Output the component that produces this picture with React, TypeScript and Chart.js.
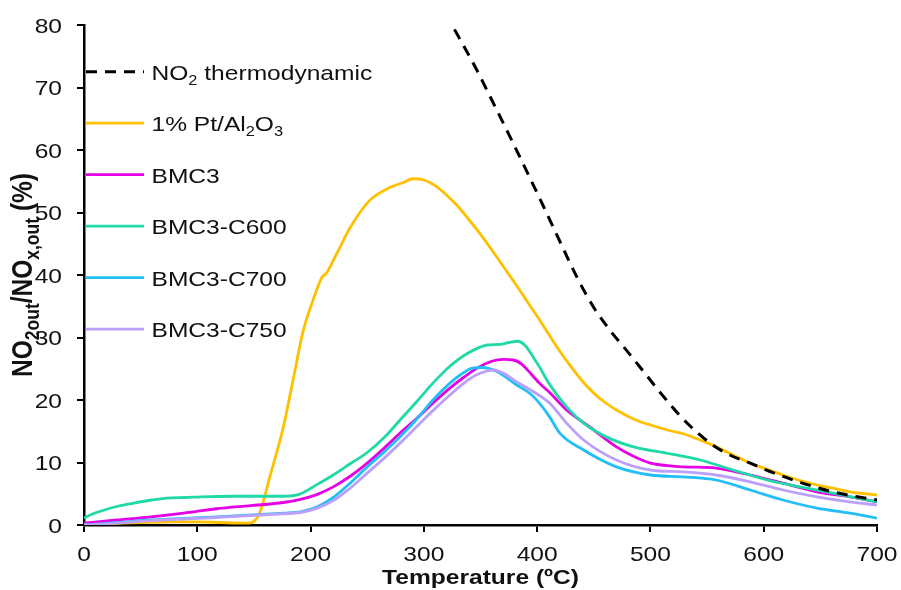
import React, { useEffect, useRef } from 'react';
import { Chart, registerables } from 'chart.js';
Chart.register(...registerables);

// ---------- Data ----------
const thermoT = [327, 345, 360, 375, 390, 405, 420, 435, 450, 465, 480, 495, 510, 526, 540, 555, 570, 588, 605, 626, 645, 661, 680, 700];
const thermoV = [79.3, 73.4, 68.0, 62.5, 56.9, 51.2, 45.4, 39.7, 34.8, 31.0, 27.7, 24.3, 20.9, 17.5, 15.0, 12.8, 11.2, 9.9, 8.6, 7.2, 6.1, 5.3, 4.6, 4.0];

const ptT = [0, 20, 50, 80, 100, 120, 140, 146, 155, 164, 176, 185, 193, 202, 210, 214, 223, 235, 252, 270, 282, 290, 300, 310, 320, 330, 340, 350, 360, 370, 380, 390, 400, 410, 420, 430, 440, 450, 460, 470, 480, 490, 500, 515, 529, 544, 558, 573, 588, 603, 617, 632, 647, 661, 676, 690, 700];
const ptV = [0.1, 0.2, 0.4, 0.5, 0.5, 0.4, 0.3, 0.3, 1.9, 7.7, 15.7, 23.6, 30.7, 35.9, 39.6, 40.3, 43.4, 47.6, 51.9, 54.0, 54.8, 55.4, 55.2, 54.3, 52.8, 51.0, 48.8, 46.5, 44.0, 41.4, 38.8, 36.1, 33.4, 30.6, 27.8, 25.3, 23.0, 21.1, 19.6, 18.4, 17.4, 16.6, 16.0, 15.2, 14.6, 13.6, 12.5, 11.2, 9.9, 8.9, 8.0, 7.1, 6.4, 5.9, 5.3, 5.0, 4.8];

const bmc3T = [0, 29, 59, 88, 117, 147, 176, 191, 206, 220, 235, 250, 265, 279, 294, 308, 323, 335, 347, 360, 370, 379, 386, 391, 402, 411, 426, 447, 470, 485, 500, 515, 529, 558, 588, 617, 647, 676, 700];
const bmc3V = [0.3, 0.8, 1.3, 1.9, 2.6, 3.1, 3.6, 4.1, 4.9, 6.1, 7.8, 9.9, 12.3, 14.7, 17.1, 19.5, 21.9, 23.6, 25.1, 26.2, 26.5, 26.4, 25.8, 24.9, 22.7, 21.2, 18.4, 15.6, 12.5, 11.0, 9.9, 9.5, 9.3, 9.1, 8.0, 6.7, 5.3, 4.5, 3.7];

const c600T = [0, 8, 18, 30, 44, 60, 73, 90, 103, 132, 160, 176, 190, 206, 220, 235, 250, 265, 279, 294, 308, 323, 338, 356, 367, 375, 383, 390, 396, 402, 411, 426, 441, 461, 485, 514, 544, 573, 603, 632, 661, 680, 700];
const c600V = [1.1, 1.8, 2.4, 3.0, 3.5, 4.0, 4.3, 4.4, 4.5, 4.6, 4.6, 4.6, 4.9, 6.5, 8.0, 9.8, 11.6, 14.0, 16.8, 19.8, 22.7, 25.4, 27.4, 28.8, 28.9, 29.2, 29.4, 28.6, 27.0, 25.3, 22.5, 18.9, 16.3, 14.1, 12.5, 11.5, 10.4, 8.8, 7.2, 6.1, 5.1, 4.4, 3.7];

const c700T = [0, 30, 59, 117, 176, 191, 206, 220, 235, 250, 265, 279, 294, 308, 323, 332, 343, 352, 360, 367, 382, 394, 402, 411, 420, 441, 470, 500, 529, 558, 588, 617, 647, 676, 700];
const c700V = [0.0, 0.4, 0.8, 1.3, 1.9, 2.1, 2.9, 4.4, 6.7, 9.3, 11.7, 14.1, 17.0, 20.0, 22.7, 24.0, 25.1, 25.2, 24.9, 24.3, 22.4, 21.0, 19.5, 17.3, 14.7, 12.0, 9.3, 8.0, 7.7, 7.2, 5.6, 4.0, 2.7, 1.9, 1.1];

const c750T = [0, 30, 59, 117, 176, 191, 206, 220, 235, 250, 265, 279, 294, 308, 323, 334, 345, 355, 362, 370, 382, 396, 411, 426, 441, 470, 500, 529, 558, 588, 617, 647, 676, 700];
const c750V = [0.0, 0.3, 0.7, 1.2, 1.8, 2.0, 2.7, 3.9, 5.9, 8.3, 10.7, 13.1, 15.8, 18.3, 20.8, 22.5, 23.9, 24.6, 24.8, 24.3, 22.9, 21.4, 19.5, 16.3, 13.6, 10.4, 8.8, 8.5, 8.0, 6.9, 5.6, 4.5, 3.7, 3.2];

const seriesNames = ['NO2 thermodynamic', '1% Pt/Al2O3', 'BMC3', 'BMC3-C600', 'BMC3-C700', 'BMC3-C750'];
const seriesColors = ['#000000', '#FFC000', '#E600E6', '#1FD9A6', '#22BFF7', '#BBA0FA'];
const seriesT = [thermoT, ptT, bmc3T, c600T, c700T, c750T];
const seriesV = [thermoV, ptV, bmc3V, c600V, c700V, c750V];

// rich legend labels: [text, isSubscript]
const legendRich: [string, number][][] = [
  [['NO', 0], ['2', 1], [' thermodynamic', 0]],
  [['1% Pt/Al', 0], ['2', 1], ['O', 0], ['3', 1]],
  [['BMC3', 0]],
  [['BMC3-C600', 0]],
  [['BMC3-C700', 0]],
  [['BMC3-C750', 0]],
];
const yTitleRich: [string, number][] = [['NO', 0], ['2out', 1], ['/NO', 0], ['x,out', 1], [' (%)', 0]];
const xTitle = 'Temperature (ºC)';

const X_MIN = 0, X_MAX = 700, X_STEP = 100;
const Y_MIN = 0, Y_MAX = 80, Y_STEP = 10;

const FONT = "'Liberation Sans', Arial, sans-serif";
const SX = 1.17; // horizontal text stretch seen in the reference
const TEXT = '#111';

function drawRich(ctx: CanvasRenderingContext2D, parts: [string, number][], x: number, y: number, size: number, subSize: number, subOff: number, bold: boolean, measureOnly = false) {
  const w = bold ? 'bold ' : '';
  let cx = x;
  for (const [t, sub] of parts) {
    const s = sub ? subSize : size;
    ctx.font = `${w}${s}px ${FONT}`;
    if (!measureOnly) ctx.fillText(t, cx, sub ? y + subOff : y);
    cx += ctx.measureText(t).width;
  }
  return cx - x;
}

function stretchText(ctx: CanvasRenderingContext2D, text: string, x: number, y: number, align: CanvasTextAlign, font: string) {
  ctx.save();
  ctx.translate(x, y);
  ctx.scale(SX, 1);
  ctx.font = font;
  ctx.textAlign = align;
  ctx.textBaseline = 'alphabetic';
  ctx.fillText(text, 0, 0);
  ctx.restore();
}

const overlayPlugin = {
  id: 'overlay',
  afterDraw(chart: any) {
    const ctx: CanvasRenderingContext2D = chart.ctx;
    const area = chart.chartArea;
    const xs = chart.scales.x;
    const ys = chart.scales.y;
    ctx.save();
    ctx.fillStyle = TEXT;
    const tickFont = `21px ${FONT}`;
    // y tick labels
    for (const t of ys.ticks) {
      const py = ys.getPixelForValue(t.value);
      stretchText(ctx, String(t.value), area.left - 22, py + 7.5, 'right', tickFont);
    }
    // x tick labels
    for (const t of xs.ticks) {
      const px = xs.getPixelForValue(t.value);
      stretchText(ctx, String(t.value), px, area.bottom + 36, 'center', tickFont);
    }
    // legend
    const rowStart = area.top + 46.7;
    const rowStep = 51.5;
    for (let i = 0; i < seriesNames.length; i++) {
      const y = rowStart + i * rowStep;
      ctx.beginPath();
      ctx.strokeStyle = seriesColors[i];
      ctx.lineWidth = i === 0 ? 3 : 2.8;
      ctx.setLineDash(i === 0 ? [11, 8] : []);
      ctx.moveTo(area.left + 2, y);
      ctx.lineTo(area.left + 60, y);
      ctx.stroke();
      ctx.setLineDash([]);
      ctx.save();
      ctx.translate(area.left + 67.5, y + 8);
      ctx.scale(SX, 1);
      ctx.fillStyle = TEXT;
      ctx.textAlign = 'left';
      ctx.textBaseline = 'alphabetic';
      drawRich(ctx, legendRich[i], 0, 0, 21, 14, 5, false);
      ctx.restore();
    }
    // x title
    stretchText(ctx, xTitle, (area.left + area.right) / 2, 584, 'center', `bold 21px ${FONT}`);
    // y title (rotated)
    ctx.save();
    ctx.textAlign = 'left';
    ctx.textBaseline = 'alphabetic';
    const tw = drawRich(ctx, yTitleRich, 0, 0, 24.5, 17.5, 6, true, true);
    ctx.translate(32, (area.top + area.bottom) / 2);
    ctx.rotate(-Math.PI / 2);
    ctx.scale(1, SX);
    drawRich(ctx, yTitleRich, -tw / 2, 0, 24.5, 17.5, 6, true);
    ctx.restore();
    ctx.restore();
  },
};

export default function App() {
  const ref = useRef<HTMLCanvasElement | null>(null);
  useEffect(() => {
    if (!ref.current) return;
    const datasets = seriesNames.map((name, i) => ({
      label: name,
      data: seriesT[i].map((t, j) => ({ x: t, y: seriesV[i][j] })),
      borderColor: seriesColors[i],
      backgroundColor: seriesColors[i],
      borderWidth: i === 0 ? 3 : 2.8,
      borderDash: i === 0 ? [11, 8] : [],
      pointRadius: 0,
      fill: false,
      cubicInterpolationMode: 'monotone' as const,
      order: i === 0 ? 0 : 6 - i,
    }));
    const chart = new Chart(ref.current, {
      type: 'line',
      data: { datasets },
      options: {
        animation: false,
        responsive: false,
        devicePixelRatio: 1,
        layout: { padding: { top: 25, right: 24, left: 0, bottom: 0 } },
        plugins: { legend: { display: false }, tooltip: { enabled: false } },
        scales: {
          x: {
            type: 'linear',
            min: X_MIN,
            max: X_MAX,
            ticks: { stepSize: X_STEP, display: false },
            grid: { drawOnChartArea: false, drawTicks: true, tickLength: 7, color: '#000', lineWidth: 2 },
            border: { display: true, color: '#000', width: 2.5 },
            afterFit: (s: any) => { s.height = 65; },
          },
          y: {
            type: 'linear',
            min: Y_MIN,
            max: Y_MAX,
            ticks: { stepSize: Y_STEP, display: false },
            grid: { drawOnChartArea: false, drawTicks: true, tickLength: 7, color: '#000', lineWidth: 2 },
            border: { display: true, color: '#000', width: 2.5 },
            afterFit: (s: any) => { s.width = 84; },
          },
        },
      },
      plugins: [overlayPlugin],
    } as any);
    return () => chart.destroy();
  }, []);
  return (
    <div style={{ position: 'absolute', left: 0, top: 0, width: 901, height: 590, background: '#fff' }}>
      <canvas ref={ref} width={901} height={590} style={{ display: 'block' }} />
    </div>
  );
}
